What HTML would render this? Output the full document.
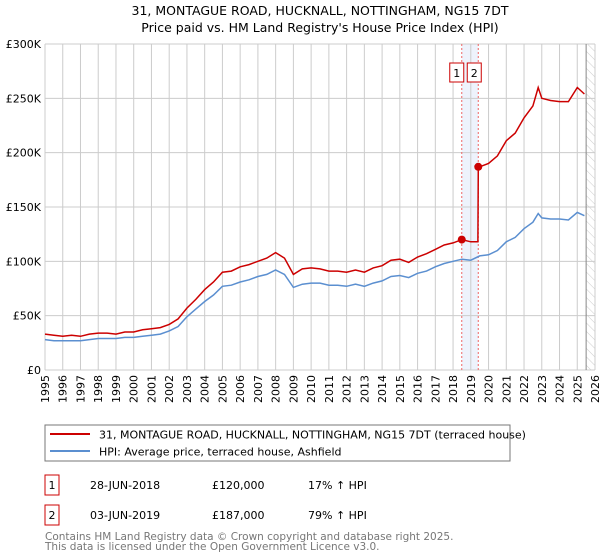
<!DOCTYPE html>
<html><head><meta charset="utf-8"><style>
body{margin:0;background:#fff;font-family:"DejaVu Sans","Liberation Sans",sans-serif;}
svg{display:block}
</style></head><body>
<svg id="c" width="600" height="560" xmlns="http://www.w3.org/2000/svg" font-family="DejaVu Sans, Liberation Sans, sans-serif">
<defs><pattern id="hatch" width="6" height="6" patternUnits="userSpaceOnUse" patternTransform="rotate(-45)"><line x1="0" y1="0" x2="0" y2="6" stroke="#ccc" stroke-width="1"/></pattern></defs>
<text x="320" y="15" font-size="12.5" text-anchor="middle">31, MONTAGUE ROAD, HUCKNALL, NOTTINGHAM, NG15 7DT</text>
<text x="320" y="32" font-size="12.5" text-anchor="middle">Price paid vs. HM Land Registry's House Price Index (HPI)</text>
<g id="grid"></g><g id="marks"></g><g id="axes"></g>
<rect x="45" y="425" width="465" height="36" fill="#fff" stroke="#777"/>
<line x1="50" y1="434" x2="90" y2="434" stroke="#cc0000" stroke-width="2"/>
<text x="99" y="438.5" font-size="11">31, MONTAGUE ROAD, HUCKNALL, NOTTINGHAM, NG15 7DT (terraced house)</text>
<line x1="50" y1="451" x2="90" y2="451" stroke="#5b8fd0" stroke-width="2"/>
<text x="99" y="455.5" font-size="11">HPI: Average price, terraced house, Ashfield</text>
<g font-size="11">
<rect x="45" y="475" width="14" height="20" fill="#fff" stroke="#cc0000"/>
<text x="52" y="489" text-anchor="middle">1</text>
<text x="90" y="489">28-JUN-2018</text>
<text x="212" y="489">£120,000</text>
<text x="308" y="489">17% ↑ HPI</text>
<rect x="45" y="505" width="14" height="20" fill="#fff" stroke="#cc0000"/>
<text x="52" y="519" text-anchor="middle">2</text>
<text x="90" y="519">03-JUN-2019</text>
<text x="212" y="519">£187,000</text>
<text x="308" y="519">79% ↑ HPI</text>
</g>
<text x="45" y="540" font-size="10.5" fill="#777">Contains HM Land Registry data © Crown copyright and database right 2025.</text>
<text x="45" y="550" font-size="10.5" fill="#777">This data is licensed under the Open Government Licence v3.0.</text>
</svg>
<script>
const hpiYears=[1995,1995.5,1996,1996.5,1997,1997.5,1998,1998.5,1999,1999.5,2000,2000.5,2001,2001.5,2002,2002.5,2003,2003.5,2004,2004.5,2005,2005.5,2006,2006.5,2007,2007.5,2008,2008.5,2009,2009.5,2010,2010.5,2011,2011.5,2012,2012.5,2013,2013.5,2014,2014.5,2015,2015.5,2016,2016.5,2017,2017.5,2018,2018.5,2019,2019.5,2020,2020.5,2021,2021.5,2022,2022.5,2022.8,2023,2023.5,2024,2024.5,2025,2025.4];
const hpiValues=[28,27,27,27,27,28,29,29,29,30,30,31,32,33,36,40,49,56,63,69,77,78,81,83,86,88,92,88,76,79,80,80,78,78,77,79,77,80,82,86,87,85,89,91,95,98,100,102,101,105,106,110,118,122,130,136,144,140,139,139,138,145,142];
const propYears=[1995,1995.5,1996,1996.5,1997,1997.5,1998,1998.5,1999,1999.5,2000,2000.5,2001,2001.5,2002,2002.5,2003,2003.5,2004,2004.5,2005,2005.5,2006,2006.5,2007,2007.5,2008,2008.5,2009,2009.5,2010,2010.5,2011,2011.5,2012,2012.5,2013,2013.5,2014,2014.5,2015,2015.5,2016,2016.5,2017,2017.5,2018,2018.49,2019,2019.4,2019.42,2019.5,2020,2020.5,2021,2021.5,2022,2022.5,2022.8,2023,2023.5,2024,2024.5,2025,2025.4];
const propValues=[33,32,31,32,31,33,34,34,33,35,35,37,38,39,42,47,57,65,74,81,90,91,95,97,100,103,108,103,88,93,94,93,91,91,90,92,90,94,96,101,102,99,104,107,111,115,117,120,118,118,187,187,190,197,211,218,232,243,260,250,248,247,247,260,254];
const saleYears=[2018.49,2019.42];
const saleValues=[120,187];
const yTicks=[0,50,100,150,200,250,300];
const yTickLabels=["£0","£50K","£100K","£150K","£200K","£250K","£300K"];
const xTicks=[1995,1996,1997,1998,1999,2000,2001,2002,2003,2004,2005,2006,2007,2008,2009,2010,2011,2012,2013,2014,2015,2016,2017,2018,2019,2020,2021,2022,2023,2024,2025,2026];
const NS="http://www.w3.org/2000/svg";
const X0=45,X1=595,Y0=370,Y1=44;
const xs=v=>X0+(v-1995)*(X1-X0)/31;
const ys=v=>Y0-v*(Y0-Y1)/300;
function mk(tag,attrs,parent){const e=document.createElementNS(NS,tag);for(const k in attrs)e.setAttribute(k,attrs[k]);parent.appendChild(e);return e;}
const grid=document.getElementById('grid'),marks=document.getElementById('marks'),axes=document.getElementById('axes');
let band=mk('rect',{x:xs(saleYears[0]),y:Y1,width:xs(saleYears[1])-xs(saleYears[0]),height:Y0-Y1,fill:'#eef3fc'},grid);


let hat=mk('rect',{x:xs(2025.5),y:Y1,width:X1-xs(2025.5),height:Y0-Y1,fill:'url(#hatch)'},grid);


xTicks.forEach(t=>{const l=mk('line',{x1:xs(t),x2:xs(t),y1:Y1,y2:Y0,stroke:'#ccc'},grid);


const tx=mk('text',{x:0,y:0,'font-size':11,'text-anchor':'end',transform:`translate(${xs(t)+4},${Y0+5}) rotate(-90)`},axes);tx.textContent=t;

});
yTicks.forEach((t,i)=>{const l=mk('line',{x1:X0,x2:X1,y1:ys(t),y2:ys(t),stroke:'#ccc'},grid);


const tx=mk('text',{x:X0-4,y:ys(t)+4,'font-size':11,'text-anchor':'end'},axes);tx.textContent=yTickLabels[i];

});
let nowl=mk('line',{x1:xs(2025.5),x2:xs(2025.5),y1:Y1,y2:Y0,stroke:'#888'},grid);


saleYears.forEach((s,i)=>{const l=mk('line',{x1:xs(s),x2:xs(s),y1:Y1,y2:Y0,stroke:'#e66','stroke-dasharray':'2,2'},grid);


const bx=xs(s)-(i==0?12:11);
const r=mk('rect',{x:bx,y:63,width:14,height:19,fill:'#fff',stroke:'#cc0000'},axes);


const t=mk('text',{x:bx+7,y:77,'font-size':11,'text-anchor':'middle'},axes);t.textContent=String(i+1);

});
const pts=(a,b)=>a.map((y,i)=>xs(y).toFixed(1)+','+ys(b[i]).toFixed(1)).join(' ');
let hp=mk('polyline',{points:pts(hpiYears,hpiValues),fill:'none',stroke:'#5b8fd0','stroke-width':1.5},marks);


let pp=mk('polyline',{points:pts(propYears,propValues),fill:'none',stroke:'#cc0000','stroke-width':1.5},marks);


saleYears.forEach((s,i)=>{const c=mk('circle',{cx:xs(s),cy:ys(saleValues[i]),r:4,fill:'#cc0000'},marks);

});
</script>
</body></html>
